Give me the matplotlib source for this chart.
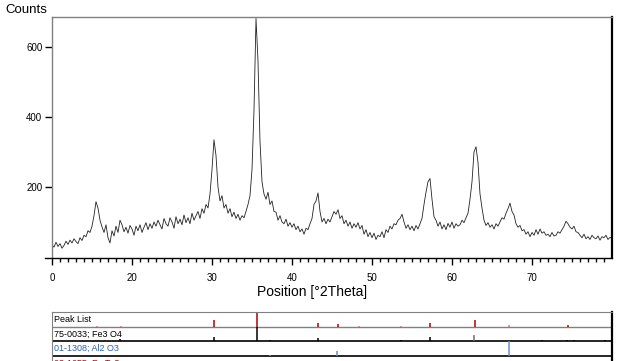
import numpy as np
import matplotlib
matplotlib.use("Agg")
import matplotlib.pyplot as plt

plt.rcParams["font.family"] = ["Liberation Sans", "DejaVu Sans"]

# ---------- DATA ----------
# diffractogram, 2theta from 10 to 80 in 0.25 deg steps
two_theta = np.arange(281) * 0.25 + 10.0
counts = [
    35, 28, 42, 30,  38, 25, 33, 45,  36, 48, 40, 52,  44, 38, 55, 47,   # 10-13
    62, 58, 75, 70,  88, 118, 158, 140,  105, 86, 70, 92,  55, 40, 75, 60,  # 14-17
    88, 70, 105, 92,  72, 85, 68, 90,  80, 62, 88, 75,  92, 70, 85, 98,  # 18-21
    78, 95, 82, 100,  88, 105, 92, 80,  110, 95, 88, 112,  100, 82, 115, 95,  # 22-25
    108, 92, 120, 98,  112, 95, 125, 105,  118, 130, 110, 138,  125, 150, 140, 180,  # 26-29
    250, 335, 290, 200,  160, 175, 140, 150,  125, 138, 115, 128,  110, 122, 105, 118,  # 30-33
    112, 130, 150, 175,  250, 420, 682, 560,  330, 215, 180, 165,  185, 150, 160, 130,  # 34-37
    128, 105, 118, 100,  95, 108, 88, 98,  85, 95, 78, 88,  72, 80, 65, 82,  # 38-41
    78, 95, 110, 150,  160, 183, 130, 100,  110, 95, 108, 100,  115, 130, 122, 135,  # 42-45
    110, 118, 95, 105,  88, 100, 82, 95,  85, 98, 80, 90,  65, 78, 58, 70,  # 46-49
    55, 68, 50, 62,  58, 72, 55, 78,  70, 88, 80, 95,  92, 105, 110, 122,  # 50-53
    100, 82, 92, 78,  88, 75, 90, 80,  95, 110, 150, 185,  215, 224, 165, 115,  # 54-57
    105, 88, 100, 80,  92, 78, 96, 85,  100, 82, 95, 88,  92, 105, 98, 112,  # 58-61
    125, 165, 215, 300,  315, 270, 180, 140,  105, 90, 98, 85,  92, 80, 95, 88,  # 62-65
    100, 112, 108, 125,  138, 154, 130, 120,  95, 85, 90, 75,  78, 65, 72, 58,  # 66-69
    70, 62, 78, 65,  80, 68, 72, 62,  65, 58, 70, 60,  62, 72, 68, 78,  # 70-73
    88, 102, 95, 85,  80, 88, 72, 70,  62, 55, 65, 52,  58, 50, 62, 55,  # 74-77
    52, 60, 48, 58,  55, 62, 50, 56,  54,  # 78-80
]

x_ticks = [10, 20, 30, 40, 50, 60, 70]
x_tick_labels = ["0", "20", "30", "40", "50", "60", "70"]
y_ticks = [200, 400, 600]

# stick patterns (position, relative intensity %)
peak_pos = [15.6, 18.6, 30.2, 35.6, 43.3, 45.8, 48.4, 53.6, 57.3, 62.9, 67.1, 74.5]
peak_int = [10, 8, 45, 100, 27, 20, 10, 10, 27, 45, 15, 13]
fe3o4_pos = [18.5, 30.2, 35.6, 37.2, 43.3, 53.6, 57.2, 62.8, 71.2, 74.4, 75.3, 79.1]
fe3o4_int = [15, 30, 100, 8, 22, 8, 30, 45, 6, 6, 6, 6]
al2o3_pos = [37.2, 45.6, 67.1]
al2o3_int = [6, 35, 100]

row_labels = ["Peak List", "75-0033; Fe3 O4", "01-1308; Al2 O3", "03-1055; Fe Te3"]
# --------------------------

W, H = 617, 361
fig = plt.figure(figsize=(W / 100, H / 100), dpi=100)


def box(x0, y0, x1, y1):
    # pixel box (top-left origin) -> figure fraction rect
    return [x0 / W, 1 - y1 / H, (x1 - x0) / W, (y1 - y0) / H]


# ---- main diffractogram ----
ax = fig.add_axes(box(52, 17, 612, 258))
ax.plot(two_theta, counts, color="#222222", lw=0.6)
ax.set_xlim(10, 80)
ax.set_ylim(-3, 686)

for s in ("top", "left"):
    ax.spines[s].set_color("#808080")
    ax.spines[s].set_linewidth(1.0)
ax.spines["right"].set_color("black")
ax.spines["right"].set_linewidth(1.6)
ax.spines["bottom"].set_color("black")
ax.spines["bottom"].set_linewidth(1.0)
# x axis line runs a bit past the left edge
ax.plot([-0.0125, 0], [0, 0], transform=ax.transAxes, color="black",
        lw=1.0, clip_on=False)

ax.set_xticks(x_ticks)
ax.set_xticklabels(x_tick_labels)
ax.set_xticks(np.arange(11, 80), minor=True)
ax.set_yticks(y_ticks)
ax.tick_params(axis="x", which="major", direction="out", length=5, width=1,
               labelsize=7, pad=6)
ax.tick_params(axis="x", which="minor", direction="out", length=3, width=1)
ax.tick_params(axis="y", which="major", direction="out", length=5, width=1,
               labelsize=7, pad=2)

fig.text(5 / W, 1 - 10 / H, "Counts", fontsize=9.5, va="center", ha="left")
fig.text(312 / W, 1 - 292 / H, "Position [°2Theta]", fontsize=10,
         va="center", ha="center")

# ---- stick pattern panel ----
ax2 = fig.add_axes(box(52, 312, 612, 371))
ax2.set_xlim(10, 80)
ax2.set_ylim(59, 0)
ax2.set_xticks([])
ax2.set_yticks([])
for s in ("top", "left"):
    ax2.spines[s].set_color("#808080")
ax2.spines["right"].set_color("black")
ax2.spines["right"].set_linewidth(1.6)
ax2.spines["bottom"].set_visible(False)

row_bottom = [15, 29, 44, 59]
row_height = [15, 14, 15, 15]
ax2.axhline(15, color="#808080", lw=1.0)
ax2.axhline(29, color="black", lw=1.2)
ax2.axhline(44, color="black", lw=1.2)

peak_colors = ["#c88080" if v <= 15 and p != 74.5 else "#b00000"
               for p, v in zip(peak_pos, peak_int)]
for p, v, c in zip(peak_pos, peak_int, peak_colors):
    ax2.vlines(p, row_bottom[0] - row_height[0] * v / 100, row_bottom[0],
               color=c, lw=1.1)
for p, v in zip(fe3o4_pos, fe3o4_int):
    c = "#707070" if p == 62.8 else "black"
    ax2.vlines(p, row_bottom[1] - row_height[1] * v / 100, row_bottom[1],
               color=c, lw=1.1)
for p, v in zip(al2o3_pos, al2o3_int):
    ax2.vlines(p, row_bottom[2] - row_height[2] * v / 100, row_bottom[2],
               color="#6090d0", lw=1.1)

label_colors = ["black", "black", "#2a5cc8", "#c00000"]
for i, (lab, c) in enumerate(zip(row_labels, label_colors)):
    y = row_bottom[i] - row_height[i] / 2
    ax2.text(10.3, y, lab, color=c, fontsize=6.5, va="center", ha="left")

fig.savefig("out.png", dpi=100)
